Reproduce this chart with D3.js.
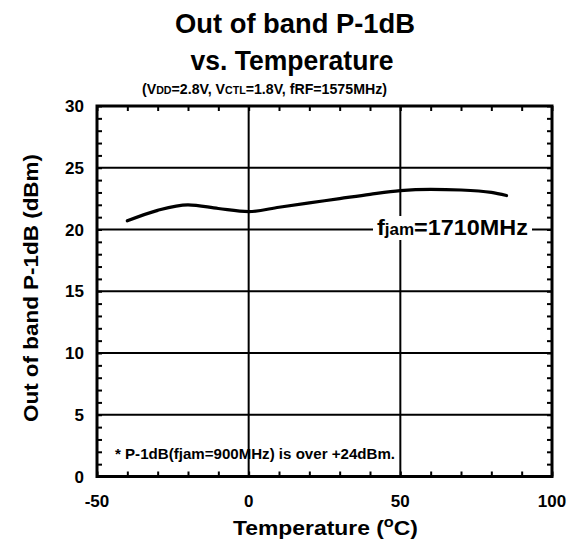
<!DOCTYPE html>
<html><head><meta charset="utf-8">
<script src="https://cdn.jsdelivr.net/npm/d3@7"></script>
<style>body{margin:0;background:#fff}svg{display:block}text{font-family:Arial,"Liberation Sans",sans-serif;font-weight:bold;fill:#000}</style>
</head><body>
<svg id="c" width="574" height="541"></svg>
<script>
const temps = [-40, -30, -20, -10, 0, 10, 20, 30, 40, 50, 60, 70, 80, 85];
const p1dB = [20.7, 21.55, 22.0, 21.7, 21.45, 21.8, 22.15, 22.5, 22.85, 23.15, 23.25, 23.2, 23.0, 22.75];
const xTicks = [-50, 0, 50, 100];
const yTicks = [0, 5, 10, 15, 20, 25, 30];

const svg = d3.select("#c");
const L = 97, R = 552, T = 106, B = 476.5;
const x = d3.scaleLinear().domain([-50, 100]).range([L, R]);
const y = d3.scaleLinear().domain([0, 30]).range([B, T]);

// grid
svg.append("g").selectAll("line").data(yTicks.slice(1, -1)).join("line")
  .attr("x1", L).attr("x2", R).attr("y1", d => y(d)).attr("y2", d => y(d))
  .attr("stroke", "#000").attr("stroke-width", 2);
svg.append("g").selectAll("line").data(xTicks.slice(1, -1)).join("line")
  .attr("y1", T).attr("y2", B).attr("x1", d => x(d)).attr("x2", d => x(d))
  .attr("stroke", "#000").attr("stroke-width", 2);

// minor ticks
const tl = 5;
const xMinor = d3.range(-50, 101, 10);
const yMinor = d3.range(0, 31, 1);
const axB = d3.axisBottom(x).tickValues(xMinor).tickSize(-tl).tickFormat("");
const axT = d3.axisTop(x).tickValues(xMinor).tickSize(-tl).tickFormat("");
const axL = d3.axisLeft(y).tickValues(yMinor).tickSize(-tl).tickFormat("");
const axR = d3.axisRight(y).tickValues(yMinor).tickSize(-tl).tickFormat("");
[[axB, `translate(0,${B})`], [axT, `translate(0,${T})`], [axL, `translate(${L},0)`], [axR, `translate(${R},0)`]].forEach(([a, t]) => {
  const g = svg.append("g").attr("transform", t).call(a);
  g.select(".domain").remove();
  g.selectAll("line").attr("stroke", "#000").attr("stroke-width", 2);
});

// frame
svg.append("rect").attr("x", L).attr("y", T).attr("width", R - L).attr("height", B - T)
  .attr("fill", "none").attr("stroke", "#000").attr("stroke-width", 3);

// tick labels
svg.append("g").selectAll("text").data(yTicks).join("text")
  .attr("x", 84).attr("y", d => y(d)).attr("dy", "0.36em").attr("text-anchor", "end")
  .style("font-size", "17px").text(d => d);
svg.append("g").selectAll("text").data(xTicks).join("text")
  .attr("x", d => x(d)).attr("y", 507).attr("text-anchor", "middle")
  .style("font-size", "17px").text(d => d);

// curve
const line = d3.line().x((d, i) => x(temps[i])).y(d => y(d)).curve(d3.curveMonotoneX);
svg.append("path").datum(p1dB).attr("d", line).attr("fill", "none")
  .attr("stroke", "#000").attr("stroke-width", 3.2).attr("stroke-linecap", "round");

// fjam label
svg.append("rect").attr("x", 373).attr("y", 216).attr("width", 159).attr("height", 24).attr("fill", "#fff");
const fl = svg.append("text").attr("x", 377).attr("y", 235).style("font-size", "22px")
  .attr("textLength", 151).attr("lengthAdjust", "spacingAndGlyphs");
fl.append("tspan").text("f");
fl.append("tspan").style("font-size", "16px").text("jam");
fl.append("tspan").text("=1710MHz");

// note
svg.append("text").attr("x", 115).attr("y", 459).style("font-size", "15px")
  .attr("textLength", 280).attr("lengthAdjust", "spacingAndGlyphs")
  .text("* P-1dB(fjam=900MHz) is over +24dBm.");

// titles
svg.append("text").attr("x", 295).attr("y", 33).attr("text-anchor", "middle").style("font-size", "27px")
  .attr("textLength", 240).attr("lengthAdjust", "spacingAndGlyphs").text("Out of band P-1dB");
svg.append("text").attr("x", 292).attr("y", 70).attr("text-anchor", "middle").style("font-size", "27px")
  .attr("textLength", 203).attr("lengthAdjust", "spacingAndGlyphs").text("vs. Temperature");
const st = svg.append("text").attr("x", 142).attr("y", 94).style("font-size", "14px")
  .attr("textLength", 245).attr("lengthAdjust", "spacingAndGlyphs");
st.append("tspan").text("(V");
st.append("tspan").style("font-size", "10.5px").text("DD");
st.append("tspan").text("=2.8V, V");
st.append("tspan").style("font-size", "10.5px").text("CTL");
st.append("tspan").text("=1.8V, fRF=1575MHz)");

// axis titles
svg.append("text").attr("transform", "translate(38,288) rotate(-90)").attr("text-anchor", "middle")
  .style("font-size", "20px").attr("textLength", 268).attr("lengthAdjust", "spacingAndGlyphs")
  .text("Out of band P-1dB (dBm)");
const xt = svg.append("text").attr("x", 233).attr("y", 535).style("font-size", "21px")
  .attr("textLength", 185).attr("lengthAdjust", "spacingAndGlyphs");
xt.append("tspan").text("Temperature (");
xt.append("tspan").attr("dy", -8).style("font-size", "15px").text("o");
xt.append("tspan").attr("dy", 8).text("C)");
</script>
</body></html>
